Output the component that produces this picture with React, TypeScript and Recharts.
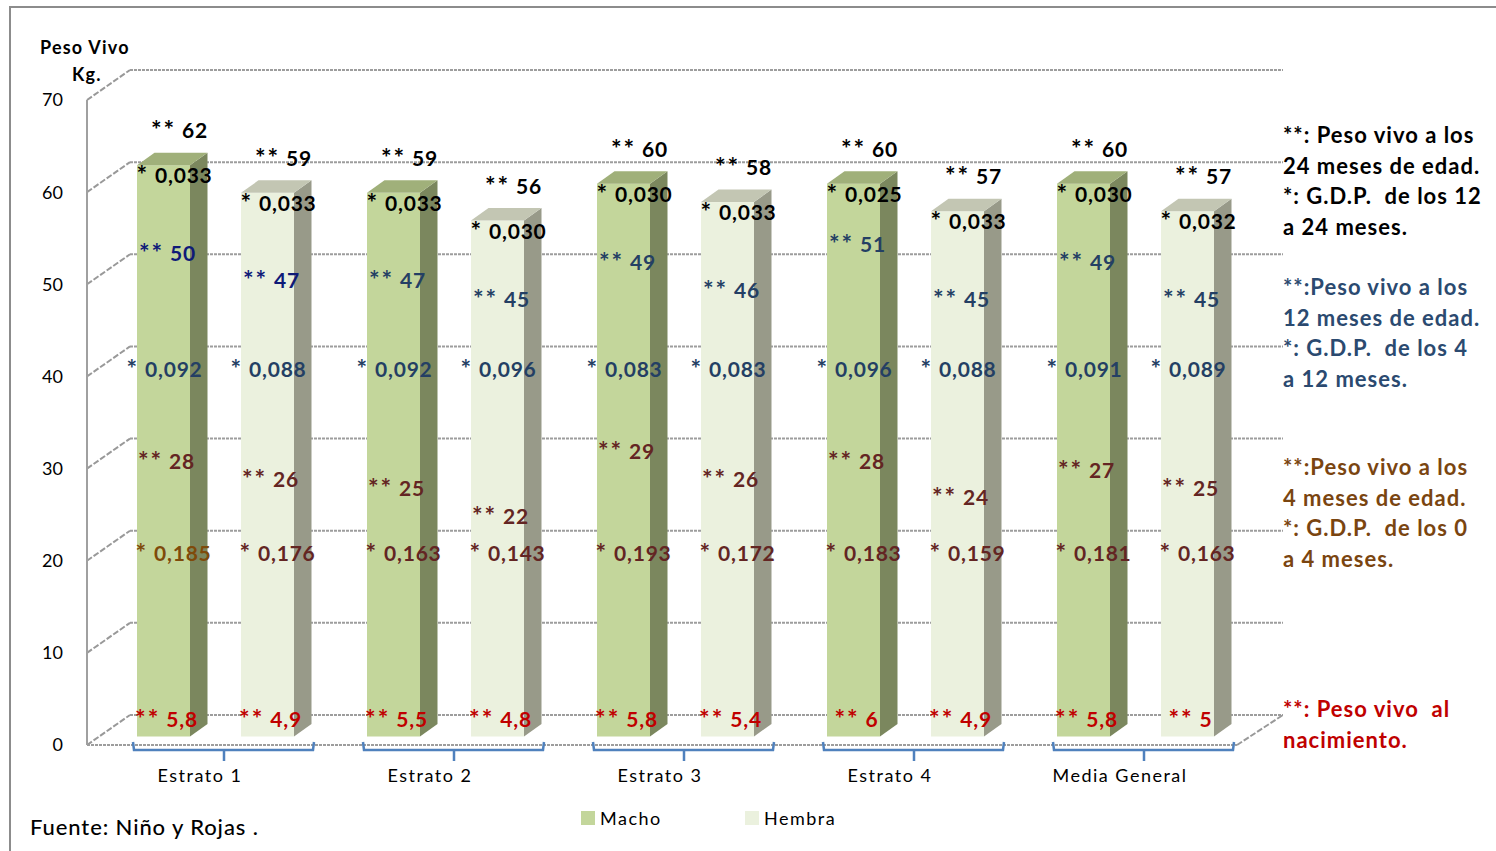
import { BarChart, Bar, XAxis, YAxis, CartesianGrid } from 'recharts';

const categories = ['Estrato 1', 'Estrato 2', 'Estrato 3', 'Estrato 4', 'Media General'];
const yTicks = [0, 10, 20, 30, 40, 50, 60, 70];

// ** peso vivo (kg)
const macho24m = [62, 59, 60, 60, 60];
const hembra24m = [59, 56, 58, 57, 57];
const macho12m = [50, 47, 49, 51, 49];
const hembra12m = [47, 45, 46, 45, 45];
const macho4m = [28, 25, 29, 28, 27];
const hembra4m = [26, 22, 26, 24, 25];
const machoNac = [5.8, 5.5, 5.8, 6, 5.8];
const hembraNac = [4.9, 4.8, 5.4, 4.9, 5];

// * G.D.P. (kg/día)
const machoGdp12a24 = [0.033, 0.033, 0.03, 0.025, 0.03];
const hembraGdp12a24 = [0.033, 0.03, 0.033, 0.033, 0.032];
const machoGdp4a12 = [0.092, 0.092, 0.083, 0.096, 0.091];
const hembraGdp4a12 = [0.088, 0.096, 0.083, 0.088, 0.089];
const machoGdp0a4 = [0.185, 0.163, 0.193, 0.183, 0.181];
const hembraGdp0a4 = [0.176, 0.143, 0.172, 0.159, 0.163];

// notas a la derecha, una lista por bloque
const notas24m = ['**: Peso vivo a los', '24 meses de edad.', '*: G.D.P.  de los 12', 'a 24 meses.'];
const notas12m = ['**:Peso vivo a los', '12 meses de edad.', '*: G.D.P.  de los 4', 'a 12 meses.'];
const notas4m = ['**:Peso vivo a los', '4 meses de edad.', '*: G.D.P.  de los 0', 'a 4 meses.'];
const notasNac = ['**: Peso vivo  al', 'nacimiento.'];

const data = categories.map((name, i) => ({ name, idx: i, Macho: macho24m[i], Hembra: hembra24m[i] }));

const FONT = 'Lato, "Open Sans", sans-serif';
const W = 1496;
const H = 851;

// perspective of the box: back wall sits up and right of the front plane
const DEPTH_X = 43;
const DEPTH_Y = 30;
// bar front face and its thickness inside that depth
const FACE_DX = 13;
const FACE_DY = -8.5;
const SIDE_DX = 17.5;
const SIDE_DY = -12.5;

const NAVY = '#0f1a78';
const SLATE = '#243f64';
const MAROON = '#632523';
const BROWN = '#7f4a0a';
const RED = '#c00000';

const num = (v: number) => String(v).replace('.', ',');
const gdp = (v: number) => v.toFixed(3).replace('.', ',');

interface Serie {
  key: 'Macho' | 'Hembra';
  w12: number[];
  w4: number[];
  nac: number[];
  g12a24: number[];
  g4a12: number[];
  g0a4: number[];
  front: string;
  side: string;
  top: string;
}

const machoSerie: Serie = {
  key: 'Macho', w12: macho12m, w4: macho4m, nac: machoNac,
  g12a24: machoGdp12a24, g4a12: machoGdp4a12, g0a4: machoGdp0a4,
  front: '#c3d69b', side: '#7b875e', top: '#a0b07a',
};
const hembraSerie: Serie = {
  key: 'Hembra', w12: hembra12m, w4: hembra4m, nac: hembraNac,
  g12a24: hembraGdp12a24, g4a12: hembraGdp4a12, g0a4: hembraGdp0a4,
  front: '#ebf1de', side: '#989a89', top: '#c3c6b3',
};

// "** 62" / "* 0,033": the stars are drawn a bit larger, as in the source workbook
function tag(x: number, y: number, stars: string, value: string, color: string) {
  return (
    <text x={x} y={y} textAnchor="middle" dominantBaseline="central" fill={color}
      fontSize={21} fontWeight={700} fontFamily={FONT} letterSpacing={0.8}>
      <tspan fontSize={25} letterSpacing={2}>{stars}</tspan>
      <tspan> {value}</tspan>
    </text>
  );
}

function bar3d(s: Serie) {
  return (props: any) => {
    const { x, y, width, height, payload } = props;
    const i: number = payload.idx;
    const v: number = payload[s.key];
    const unit = height / v;
    const fx = x + FACE_DX;
    const base = y + height + FACE_DY;
    const yOf = (val: number) => base - val * unit;
    const top = yOf(v);
    const r = fx + width;
    const cx = fx + width / 2;
    const c12 = i === 0 ? NAVY : SLATE;
    const c0a4 = i === 0 && s.key === 'Macho' ? BROWN : MAROON;
    return (
      <g>
        <rect x={fx} y={top} width={width} height={base - top} fill={s.front} />
        <polygon
          points={`${r},${top} ${r + SIDE_DX},${top + SIDE_DY} ${r + SIDE_DX},${base + SIDE_DY} ${r},${base}`}
          fill={s.side}
        />
        <polygon
          points={`${fx},${top} ${fx + SIDE_DX},${top + SIDE_DY} ${r + SIDE_DX},${top + SIDE_DY} ${r},${top}`}
          fill={s.top}
        />
        {tag(cx + 16, top - 36, '**', num(v), '#000')}
        {tag(cx + 11, top + 9, '*', gdp(s.g12a24[i]), '#000')}
        {tag(cx + 4, yOf(s.w12[i]) - 24, '**', num(s.w12[i]), c12)}
        {tag(cx + 1, yOf(40), '*', gdp(s.g4a12[i]), SLATE)}
        {tag(cx + 3, yOf(s.w4[i]) - 19, '**', num(s.w4[i]), MAROON)}
        {tag(cx + 10, yOf(20), '*', gdp(s.g0a4[i]), c0a4)}
        {tag(cx + 3, yOf(2), '**', num(s.nac[i]), RED)}
      </g>
    );
  };
}

// back-wall gridline with its slanted segment on the left wall
function wallLine(props: any) {
  const { x1, x2, y1, key } = props;
  const bx1 = x1 + DEPTH_X;
  const bx2 = x2 + DEPTH_X + 3;
  const by = y1 - DEPTH_Y;
  const floor = Math.abs(y1 - 745) < 1;
  return (
    <g key={key}>
      <line x1={x1} y1={y1} x2={bx1} y2={by} stroke="#999" strokeWidth={2} strokeDasharray="6 2" />
      <line x1={bx1} y1={by} x2={bx2} y2={by} stroke="#9d9d9d" strokeWidth={2} strokeDasharray="3 1" />
      {floor && (
        <>
          <line x1={x1} y1={y1} x2={x2} y2={y1} stroke="#9d9d9d" strokeWidth={2} strokeDasharray="3 1" />
          <line x1={x2} y1={y1} x2={bx2} y2={by} stroke="#999" strokeWidth={2} strokeDasharray="6 2" />
        </>
      )}
    </g>
  );
}

function categoryTick(props: any) {
  const { x, y, payload } = props;
  const l = x - 69;
  const r = x + 112;
  const mid = x + 22;
  return (
    <g>
      <path
        d={`M${l},${y - 3} L${l + 1},${y + 5} L${r - 1},${y + 5} L${r},${y - 3} M${mid},${y + 5} L${mid},${y + 16}`}
        stroke="#4f81bd" strokeWidth={2.5} fill="none"
      />
      <text x={x - 2} y={y + 30} textAnchor="middle" dominantBaseline="central"
        fill="#000" fontSize={18} fontFamily={FONT} letterSpacing={1.5}>
        {payload.value}
      </text>
    </g>
  );
}

function Notes({ lines, top, color }: { lines: string[]; top: number; color: string }) {
  return (
    <>
      {lines.map((line, k) => (
        <div key={k} style={{
          position: 'absolute', left: 1283, top: top + k * 30.7, height: 28, color, fontFamily: FONT,
          fontWeight: 700, fontSize: 22, letterSpacing: 1, lineHeight: '28px', whiteSpace: 'pre',
        }}>
          {line}
        </div>
      ))}
    </>
  );
}

export default function App() {
  return (
    <div style={{ position: 'absolute', left: 0, top: 0, width: W, height: H, background: '#fff', overflow: 'hidden' }}>
      <div style={{ position: 'absolute', left: 9, top: 6, width: W, height: H, borderTop: '2px solid #8c8c8c', borderLeft: '2px solid #8c8c8c' }} />
      <BarChart
        width={W}
        height={H}
        data={data}
        margin={{ top: 100, right: 259, bottom: 66, left: 27 }}
        barSize={53}
        barGap={51}
        style={{ position: 'absolute', left: 0, top: 0 }}
      >
        <CartesianGrid horizontal={wallLine} vertical={false} />
        <XAxis dataKey="name" axisLine={false} tickLine={false} tickSize={0} tickMargin={0}
          interval={0} height={40} tick={categoryTick} />
        <YAxis domain={[0, 70]} ticks={yTicks} interval={0} tickLine={false} tickMargin={18} width={60}
          axisLine={{ stroke: '#a0a0a0', strokeWidth: 2 }}
          tick={{ fill: '#000', fontSize: 18, fontFamily: FONT }} />
        <Bar dataKey="Macho" fill={machoSerie.front} shape={bar3d(machoSerie)} isAnimationActive={false} />
        <Bar dataKey="Hembra" fill={hembraSerie.front} shape={bar3d(hembraSerie)} isAnimationActive={false} />
      </BarChart>

      <div style={{ position: 'absolute', left: 40, top: 36, fontFamily: FONT, fontWeight: 700, fontSize: 18, letterSpacing: 1.2 }}>Peso Vivo</div>
      <div style={{ position: 'absolute', left: 72, top: 63, fontFamily: FONT, fontWeight: 700, fontSize: 18, letterSpacing: 1.2 }}>Kg.</div>

      <Notes lines={notas24m} top={121} color="#000" />
      <Notes lines={notas12m} top={273} color="#2b4a70" />
      <Notes lines={notas4m} top={453} color="#7a4510" />
      <Notes lines={notasNac} top={695} color={RED} />

      {[machoSerie, hembraSerie].map((s, k) => (
        <div key={s.key} style={{ position: 'absolute', left: k === 0 ? 581 : 745, top: 807, display: 'flex', alignItems: 'center', fontFamily: FONT, fontSize: 18, letterSpacing: 1.5 }}>
          <span style={{ display: 'inline-block', width: 14, height: 14, background: s.front, marginRight: 5 }} />
          {s.key}
        </div>
      ))}

      <div style={{ position: 'absolute', left: 30, top: 813, fontFamily: FONT, fontSize: 22, fontWeight: 500, letterSpacing: 0.9 }}>Fuente: Niño y Rojas .</div>
    </div>
  );
}
